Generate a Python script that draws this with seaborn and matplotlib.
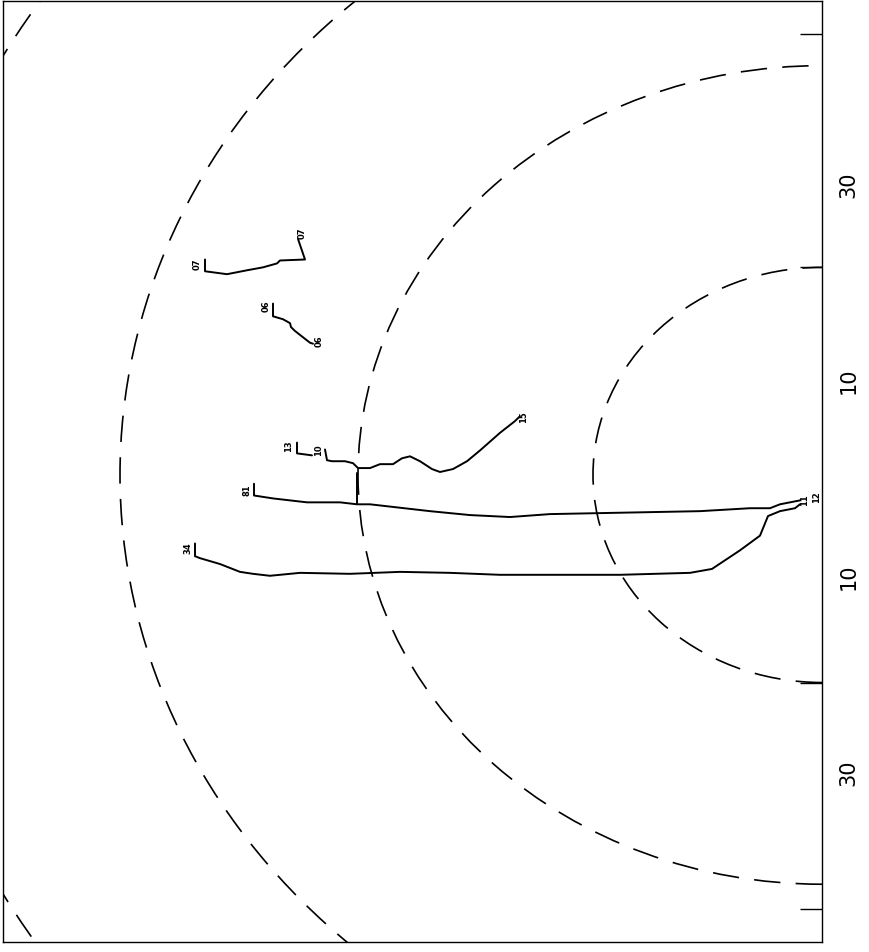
import matplotlib
matplotlib.use("Agg")
import matplotlib.pyplot as plt
from matplotlib.patches import Ellipse
import seaborn as sns
import pandas as pd

sns.set_style("white")
plt.rcParams["font.family"] = ["DejaVu Sans"]
plt.rcParams["lines.scale_dashes"] = False

# ---- data (distance from the right edge, lateral offset) ----
track_a_x = [61.7, 61.7, 59.5, 57.5, 55.9, 54.5, 54.2, 51.7, 52.4]
track_a_y = [22.4, 21.2, 20.9, 21.3, 21.6, 22.0, 22.3, 22.4, 24.5]

track_b_x = [54.9, 54.9, 53.9, 53.2, 53.1, 52.7, 51.2, 50.9]
track_b_y = [17.9, 16.6, 16.3, 15.9, 15.5, 15.1, 13.9, 13.8]

track_c1_x = [52.5, 52.5, 51.0]
track_c1_y = [3.7, 2.6, 2.4]

track_c2_x = [49.7, 49.5, 49.0, 47.7, 46.9, 46.4, 45.2, 44.2, 42.9, 42.0,
              41.2, 40.2, 39.0, 38.2, 36.9, 35.5, 34.2, 32.2, 30.7, 30.2]
track_c2_y = [3.0, 1.9, 1.8, 1.8, 1.6, 1.1, 1.1, 1.5, 1.5, 2.1,
              2.3, 1.8, 1.0, 0.7, 1.0, 1.8, 2.9, 4.7, 5.9, 6.4]

track_f_x = [46.5, 46.5]
track_f_y = [0.6, -2.6]

track_d_x = [56.8, 56.8, 54.9, 51.5, 48.2, 46.5, 45.2, 39.2, 35.2, 31.2,
             27.2, 22.2, 17.2, 12.2, 7.2, 5.2, 4.2, 3.2, 2.2]
track_d_y = [-0.5, -1.7, -2.0, -2.4, -2.4, -2.6, -2.6, -3.3, -3.7, -3.9,
             -3.6, -3.5, -3.4, -3.3, -3.0, -3.0, -2.6, -2.4, -2.2]

track_e_x = [62.7, 62.7, 62.2, 60.2, 58.2, 56.9, 55.2, 52.2, 47.2, 42.2, 37.2,
             32.2, 26.2, 20.2, 13.2, 11.0, 8.2, 6.2, 5.4, 4.2, 2.7, 2.2]
track_e_y = [-6.6, -7.9, -8.1, -8.7, -9.5, -9.7, -9.9, -9.6, -9.7, -9.5, -9.6,
             -9.8, -9.8, -9.8, -9.6, -9.2, -7.3, -5.8, -3.8, -3.3, -3.0, -2.6]

label_text = ["07", "07", "06", "06", "13", "10", "15", "81", "11", "12", "34"]
label_x = [62.5, 52.0, 55.6, 50.3, 53.3, 50.3, 29.8, 57.5, 1.7, 0.5, 63.4]
label_y = [21.9, 25.1, 17.6, 14.1, 3.3, 2.9, 6.3, -1.2, -2.2, -1.9, -7.1]

ring_rx = [22.9, 46.4, 70.2, 94.0]
ring_ry = [21.2, 41.8, 64.8, 87.2]
ring_cx = 0.0
ring_cy = 0.4

ring_ticks = [45.4, 21.6, -20.9, -43.9]
scale_ticks = [30, 10, -10, -30]
scale_labels = ["30", "10", "10", "30"]

# ---- figure ----
fig = plt.figure(figsize=(8.69, 9.52), dpi=100)
ax = fig.add_axes([3 / 869, 1 - 942 / 952, 819 / 869, 941 / 952])

tracks = [(track_a_x, track_a_y), (track_b_x, track_b_y), (track_c1_x, track_c1_y),
          (track_c2_x, track_c2_y), (track_f_x, track_f_y), (track_d_x, track_d_y),
          (track_e_x, track_e_y)]
for tx, ty in tracks:
    df = pd.DataFrame({"x": tx, "y": ty})
    sns.lineplot(data=df, x="x", y="y", sort=False, estimator=None,
                 color="black", linewidth=1.4, ax=ax)

for rx, ry in zip(ring_rx, ring_ry):
    ax.add_patch(Ellipse((ring_cx, ring_cy), 2 * rx, 2 * ry, fill=False,
                         edgecolor="black", linewidth=1.2,
                         linestyle=(0, (19, 11))))

for t, lx, ly in zip(label_text, label_x, label_y):
    ax.text(lx, ly, t, rotation=90, fontsize=6, fontweight="bold",
            ha="center", va="center", color="black")

ax.set_xlim(81.9, 0)
ax.set_ylim(-47.3, 48.8)
ax.set_xlabel("")
ax.set_ylabel("")
ax.set_xticks([])

ax.yaxis.tick_right()
ax.set_yticks(scale_ticks)
ax.set_yticklabels(scale_labels)
ax.set_yticks(ring_ticks, minor=True)
ax.tick_params(axis="y", which="major", length=0, pad=12, labelsize=15,
               labelcolor="black", right=True, left=False)
ax.tick_params(axis="y", which="minor", direction="in", length=16,
               width=1.0, color="black", right=True, left=False)
for lab in ax.get_yticklabels():
    lab.set_rotation(90)
    lab.set_va("center")

for s in ax.spines.values():
    s.set_color("black")
    s.set_linewidth(1.0)

fig.savefig("out.png", dpi=100, facecolor="white")
